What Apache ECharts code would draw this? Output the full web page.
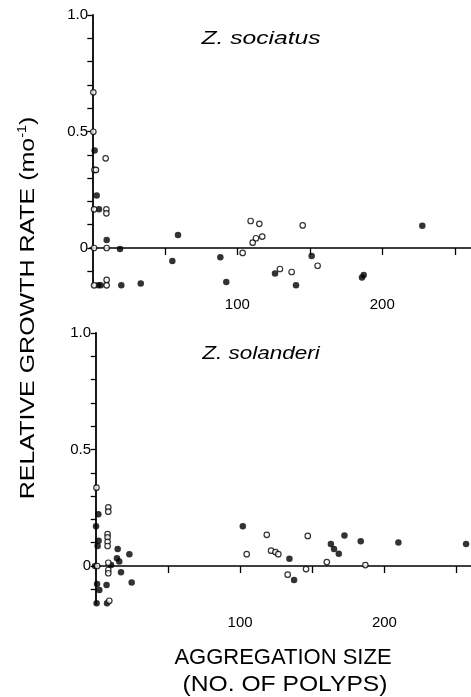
<!DOCTYPE html>
<html>
<head>
<meta charset="utf-8">
<script src="https://cdn.jsdelivr.net/npm/echarts@6/dist/echarts.min.js"></script>
<style>
html,body{margin:0;padding:0;background:#fff;}
#c{width:471px;height:697px;}
</style>
</head>
<body>
<div id="c"></div>
<script>
// Z. sociatus (top panel)
const sociatusFilled = [[1.6,0.418],[3,0.225],[4.6,0.166],[9.9,0.034],[19.1,-0.004],[4.1,-0.16],[5.8,-0.16],[20,-0.16],[33.4,-0.152],[55.2,-0.056],[59.1,0.056],[88.3,-0.04],[92.4,-0.146],[126,-0.109],[140.5,-0.16],[151.3,-0.034],[186,-0.127],[187.2,-0.116],[227.6,0.096]];
const sociatusOpen = [[0.7,0.668],[0.7,0.499],[9.2,0.385],[1.5,0.335],[2.5,0.335],[1.2,0.166],[9.7,0.166],[9.7,0.149],[1.2,0],[9.9,0],[9.9,-0.137],[1.2,-0.16],[9.9,-0.16],[103.7,-0.021],[109.2,0.116],[115.2,0.104],[110.6,0.023],[112.9,0.042],[117.2,0.049],[129.4,-0.09],[137.5,-0.103],[145.1,0.097],[155.4,-0.076]];
// Z. solanderi (bottom panel)
const solanderiFilled = [[1.8,0.222],[0.2,0.171],[2,0.108],[1.3,0.086],[15.2,0.073],[23.3,0.05],[14.7,0.033],[16.3,0.019],[-0.5,0],[10.6,0.004],[17.5,-0.027],[24.9,-0.071],[0.9,-0.077],[2.5,-0.103],[7.5,-0.081],[0.6,-0.16],[7.8,-0.16],[101.9,0.171],[134.2,0.031],[137.4,-0.06],[162.9,0.094],[165.1,0.073],[168.4,0.053],[172.3,0.131],[183.6,0.106],[209.7,0.101],[256.6,0.094]];
const solanderiOpen = [[0.5,0.336],[8.7,0.252],[8.7,0.233],[8.2,0.137],[8.2,0.123],[8.2,0.104],[8.2,0.086],[1,0],[8.7,0.014],[8.7,-0.017],[8.7,-0.031],[9.4,-0.149],[104.6,0.051],[118.5,0.134],[121.5,0.066],[124.5,0.06],[126.5,0.051],[133,-0.037],[146.9,0.129],[145.7,-0.013],[160.1,0.017],[186.8,0.004]];

const xTickValues = [50,100,150,200,250];
const xLabelValues = [100,200];
const yTickValues = [-0.1,0,0.1,0.2,0.3,0.4,0.5,0.6,0.7,0.8,0.9,1.0];
const yLabelValues = [0,0.5,1.0];
const panelTitles = ['Z. sociatus','Z. solanderi'];
const yTitle = 'RELATIVE GROWTH RATE (mo{sup|-1})';
const xTitle = ['AGGREGATION SIZE','(NO. OF POLYPS)'];

const FONT = 'Liberation Sans';
const chart = echarts.init(document.getElementById('c'), null, {renderer:'canvas'});

function xAxis(gi, min, max){
  return {
    gridIndex: gi, type:'value', min:min, max:max,
    axisLine:{show:true, lineStyle:{color:'#000', width:1.6}},
    axisTick:{show:true, customValues:xTickValues, length:7, inside:false, lineStyle:{color:'#000', width:1.3}},
    axisLabel:{show:true, customValues:xLabelValues, margin:11, color:'#000', fontFamily:FONT, fontSize:15},
    splitLine:{show:false}
  };
}
function yAxis(gi){
  return {
    gridIndex: gi, type:'value', min:-0.163, max:1.0,
    axisLine:{show:true, lineStyle:{color:'#000', width:1.8}},
    axisTick:{show:true, customValues:yTickValues, length:5, lineStyle:{color:'#000', width:1.3}},
    axisLabel:{show:true, customValues:yLabelValues, margin:2, color:'#000', fontFamily:FONT, fontSize:15,
      formatter: v => (Math.abs(v) < 1e-9 ? '0' : v.toFixed(1))},
    splitLine:{show:false}
  };
}
function filled(data, i){
  return {type:'scatter', xAxisIndex:i, yAxisIndex:i, data:data, symbol:'circle', symbolSize:6.5, clip:false,
    itemStyle:{color:'#000'}, silent:true};
}
function open(data, i){
  return {type:'scatter', xAxisIndex:i, yAxisIndex:i, data:data, symbol:'circle', symbolSize:5.5, clip:false,
    itemStyle:{color:'#fff', borderColor:'#000', borderWidth:1.2}, silent:true};
}

chart.setOption({
  animation:false,
  backgroundColor:'#fff',
  grid:[
    {left:90, top:15, width:381, height:271},
    {left:93, top:333, width:378, height:271}
  ],
  xAxis:[xAxis(0,-1.6,261.2), xAxis(1,-1.9,260)],
  yAxis:[yAxis(0), yAxis(1)],
  series:[
    filled(sociatusFilled,0), open(sociatusOpen,0),
    filled(solanderiFilled,1), open(solanderiOpen,1)
  ],
  graphic:[
    {type:'text', x:261, y:39, scaleX:1.37, style:{text:panelTitles[0], fill:'#000', font:'italic 18px "Liberation Sans"', textAlign:'center', textVerticalAlign:'middle'}},
    {type:'text', x:261, y:354, scaleX:1.25, style:{text:panelTitles[1], fill:'#000', font:'italic 18px "Liberation Sans"', textAlign:'center', textVerticalAlign:'middle'}},
    {type:'text', x:28, y:308, rotation:Math.PI/2, scaleX:1.19,
      style:{text:yTitle, fill:'#000', font:'21px "Liberation Sans"', textAlign:'center', textVerticalAlign:'middle',
        rich:{sup:{fontSize:12, fontFamily:FONT, fill:'#000', padding:[0,0,10,0]}}}},
    {type:'text', x:283, y:658, style:{text:xTitle[0], fill:'#000', font:'22px "Liberation Sans"', textAlign:'center', textVerticalAlign:'middle'}},
    {type:'text', x:285, y:685, scaleX:1.12, style:{text:xTitle[1], fill:'#000', font:'22px "Liberation Sans"', textAlign:'center', textVerticalAlign:'middle'}}
  ]
});
</script>
</body>
</html>
